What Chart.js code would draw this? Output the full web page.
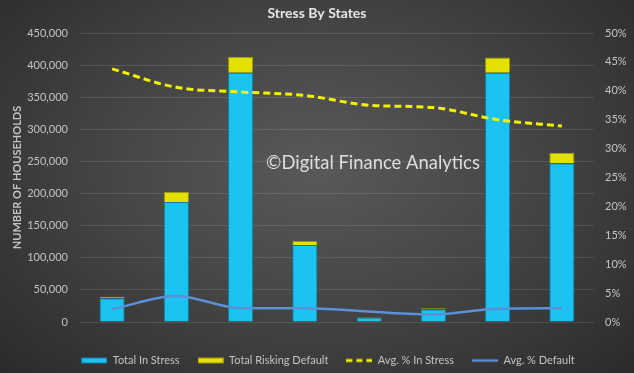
<!DOCTYPE html>
<html>
<head>
<meta charset="utf-8">
<script src="https://cdn.jsdelivr.net/npm/chart.js@4/dist/chart.umd.min.js"></script>
<style>
  html, body { margin: 0; padding: 0; }
  #wrap {
    position: relative;
    width: 634px;
    height: 373px;
    background: radial-gradient(ellipse 70% 80% at 50% 45%, #595959 0%, #464646 45%, #2a2a2a 100%);
    overflow: hidden;
  }
</style>
</head>
<body>
<div id="wrap"><canvas id="stressByStates" width="634" height="373"></canvas></div>
<script>
const states = ['TAS', 'WA', 'VIC', 'SA', 'NT', 'ACT', 'NSW', 'QLD'];
const totalInStress = [37000, 187000, 388000, 120000, 7000, 20000, 388000, 247000];
const totalRiskingDefault = [2500, 16000, 25000, 6000, 800, 1500, 24000, 16500];
const avgPctInStress = [43.8, 40.6, 39.8, 39.2, 37.5, 37.1, 35.0, 33.9];
const avgPctDefault = [2.2, 4.5, 2.4, 2.4, 1.8, 1.3, 2.3, 2.4];
const householdTicks = [0, 450000, 50000];
const percentTicks = [0, 50, 5];

const cyan = '#1cc2f2';
const cyanEdge = '#0b7fa8';
const yellow = '#e4e000';
const yellowEdge = '#9c9800';
const dashYellow = '#f2f200';
const steelBlue = '#5b8fd6';
const labelColor = '#c4c4c4';
const gridColor = 'rgba(255,255,255,0.11)';
const fontFamily = 'Lato, "Open Sans", sans-serif';

const legendMarker = (draw) => {
  const c = document.createElement('canvas');
  c.width = 26;
  c.height = 8;
  draw(c.getContext('2d'));
  return c;
};

const markers = [
  legendMarker(ctx => { ctx.fillStyle = cyan; ctx.fillRect(0, 1, 26, 6); ctx.strokeStyle = cyanEdge; ctx.strokeRect(0.5, 1.5, 25, 5); }),
  legendMarker(ctx => { ctx.fillStyle = yellow; ctx.fillRect(0, 1, 26, 6); ctx.strokeStyle = yellowEdge; ctx.strokeRect(0.5, 1.5, 25, 5); }),
  legendMarker(ctx => { ctx.strokeStyle = dashYellow; ctx.lineWidth = 3; ctx.setLineDash([6, 4]); ctx.beginPath(); ctx.moveTo(0, 4); ctx.lineTo(26, 4); ctx.stroke(); }),
  legendMarker(ctx => { ctx.strokeStyle = steelBlue; ctx.lineWidth = 2.5; ctx.beginPath(); ctx.moveTo(0, 4); ctx.lineTo(26, 4); ctx.stroke(); })
];

const watermark = {
  id: 'watermark',
  afterDatasetsDraw(chart) {
    const {ctx, chartArea} = chart;
    const text = '\u00A9Digital Finance Analytics';
    ctx.save();
    let size = 20;
    ctx.font = size + 'px ' + fontFamily;
    size = size * 214 / ctx.measureText(text).width;
    ctx.font = size + 'px ' + fontFamily;
    ctx.fillStyle = '#dedede';
    ctx.textBaseline = 'middle';
    ctx.fillText(text, chartArea.left + (chartArea.right - chartArea.left) * 0.362, chartArea.top + (chartArea.bottom - chartArea.top) * 0.449);
    ctx.restore();
  }
};

// Excel centres the legend a bit to the right and lower than Chart.js does
const legendNudge = {
  id: 'legendNudge',
  afterLayout(chart) {
    chart.legend.top += 3;
    chart.legend.bottom += 3;
    chart.legend.left += 11;
    chart.legend.right += 11;
  }
};

new Chart(document.getElementById('stressByStates'), {
  data: {
    labels: states,
    datasets: [
      {
        type: 'line',
        label: 'Avg. % In Stress',
        data: avgPctInStress,
        yAxisID: 'y1',
        borderColor: dashYellow,
        borderWidth: 3,
        borderDash: [7, 4],
        pointRadius: 0,
        cubicInterpolationMode: 'monotone',
        order: 0
      },
      {
        type: 'line',
        label: 'Avg. % Default',
        data: avgPctDefault,
        yAxisID: 'y1',
        borderColor: steelBlue,
        borderWidth: 2.5,
        pointRadius: 0,
        cubicInterpolationMode: 'monotone',
        order: 0
      },
      {
        type: 'bar',
        label: 'Total In Stress',
        data: totalInStress,
        yAxisID: 'y',
        backgroundColor: cyan,
        borderColor: cyanEdge,
        borderWidth: 1,
        barPercentage: 0.8,
        categoryPercentage: 0.49,
        order: 1
      },
      {
        type: 'bar',
        label: 'Total Risking Default',
        data: totalRiskingDefault,
        yAxisID: 'y',
        backgroundColor: yellow,
        borderColor: yellowEdge,
        borderWidth: 1,
        barPercentage: 0.8,
        categoryPercentage: 0.49,
        order: 1
      }
    ]
  },
  options: {
    responsive: false,
    animation: false,
    layout: { padding: 0 },
    plugins: {
      title: {
        display: true,
        text: 'Stress By States',
        color: '#e6e6e6',
        font: { family: fontFamily, size: 14, weight: 'bold' },
        padding: { top: 5, bottom: 11.2 }
      },
      legend: {
        position: 'bottom',
        labels: {
          color: labelColor,
          font: { family: fontFamily, size: 11 },
          usePointStyle: true,
          pointStyleWidth: 26,
          padding: 18,
          generateLabels: () => [
            { text: 'Total In Stress', pointStyle: markers[0], datasetIndex: 2, fontColor: labelColor, lineWidth: 0 },
            { text: 'Total Risking Default', pointStyle: markers[1], datasetIndex: 3, fontColor: labelColor, lineWidth: 0 },
            { text: 'Avg. % In Stress', pointStyle: markers[2], datasetIndex: 0, fontColor: labelColor, lineWidth: 0 },
            { text: 'Avg. % Default', pointStyle: markers[3], datasetIndex: 1, fontColor: labelColor, lineWidth: 0 }
          ]
        }
      },
      tooltip: { enabled: false }
    },
    scales: {
      x: {
        stacked: true,
        afterFit: s => { s.height = 12; },
        grid: { display: false },
        border: { display: false },
        ticks: { color: labelColor, font: { family: fontFamily, size: 11 }, padding: 9.5 }
      },
      y: {
        stacked: true,
        position: 'left',
        min: householdTicks[0],
        max: householdTicks[1],
        afterFit: s => { s.width = 80; },
        grid: { color: gridColor, drawTicks: false },
        border: { display: false },
        ticks: { stepSize: householdTicks[2], color: labelColor, font: { family: fontFamily, size: 11 }, padding: 12 },
        title: {
          display: true,
          text: 'NUMBER OF HOUSEHOLDS',
          color: labelColor,
          font: { family: fontFamily, size: 11, weight: 'bold' },
          padding: { top: 11, bottom: 0 }
        }
      },
      y1: {
        stacked: false,
        position: 'right',
        min: percentTicks[0],
        max: percentTicks[1],
        afterFit: s => { s.width = 40; },
        grid: { drawOnChartArea: false, drawTicks: false },
        border: { display: false },
        ticks: { stepSize: percentTicks[2], color: labelColor, font: { family: fontFamily, size: 11 }, padding: 11, callback: v => v + '%' }
      }
    }
  },
  plugins: [watermark, legendNudge]
});
</script>
</body>
</html>
